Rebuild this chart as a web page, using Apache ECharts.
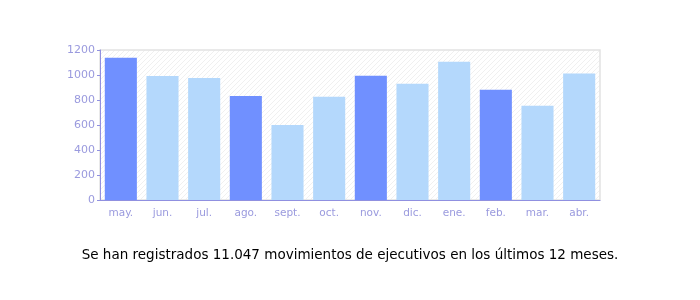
<!DOCTYPE html>
<html><head><meta charset="utf-8">
<script src="https://cdn.jsdelivr.net/npm/echarts@6/dist/echarts.min.js"></script>
<style>html,body{margin:0;padding:0;background:#fff}#c{width:700px;height:300px}</style>
</head><body><div id="c"></div>
<script>
const categories = ['may.','jun.','jul.','ago.','sept.','oct.','nov.','dic.','ene.','feb.','mar.','abr.'];
const values = [1138, 993, 977, 833, 601, 826, 994, 930, 1106, 882, 754, 1013];
const highlighted = [true,false,false,true,false,false,true,false,false,true,false,false];
const yTicks = [0,200,400,600,800,1000,1200];
const caption = 'Se han registrados 11.047 movimientos de ejecutivos en los últimos 12 meses.';

const pc = document.createElement('canvas');
pc.width = 5; pc.height = 5;
const g = pc.getContext('2d');
g.fillStyle = '#ffffff'; g.fillRect(0,0,5,5);
g.strokeStyle = '#f0f0f0'; g.lineWidth = 1;
g.beginPath(); g.moveTo(0,5); g.lineTo(5,0); g.stroke();
g.beginPath(); g.moveTo(-2.5,2.5); g.lineTo(2.5,-2.5); g.stroke();
g.beginPath(); g.moveTo(2.5,7.5); g.lineTo(7.5,2.5); g.stroke();

const chart = echarts.init(document.getElementById('c'), null, {renderer:'canvas'});
const axisCol = '#9090e0';
const labelCol = '#9a9ade';
chart.setOption({
  animation:false,
  title:{text:caption,left:'center',top:243,textStyle:{fontFamily:'DejaVu Sans',fontSize:13.5,fontWeight:'normal',color:'#000'}},
  grid:{left:100,right:100,top:50,bottom:100,show:true,borderColor:'#e2e2e2',borderWidth:1.5,
        backgroundColor:{image:pc,repeat:'repeat'}},
  xAxis:{type:'category',data:categories,
    axisLine:{lineStyle:{color:axisCol,width:1}},
    axisTick:{alignWithLabel:true,length:5,lineStyle:{color:axisCol}},
    axisLabel:{color:labelCol,fontFamily:'DejaVu Sans',fontSize:10.5,margin:8},
    splitLine:{show:false}},
  yAxis:{type:'value',min:0,max:1200,interval:200,
    axisLine:{show:true,lineStyle:{color:axisCol}},
    axisTick:{show:true,length:3,lineStyle:{color:axisCol}},
    axisLabel:{color:labelCol,fontFamily:'DejaVu Sans',fontSize:11,margin:5,
      formatter:v=>yTicks.includes(v)?String(v):''},
    splitLine:{show:false}},
  series:[{type:'bar',barWidth:'77%',
    data:values.map((v,i)=>({value:v,itemStyle:{color:highlighted[i]?'#7090ff':'#b4d8fc'}}))}]
});
</script></body></html>
